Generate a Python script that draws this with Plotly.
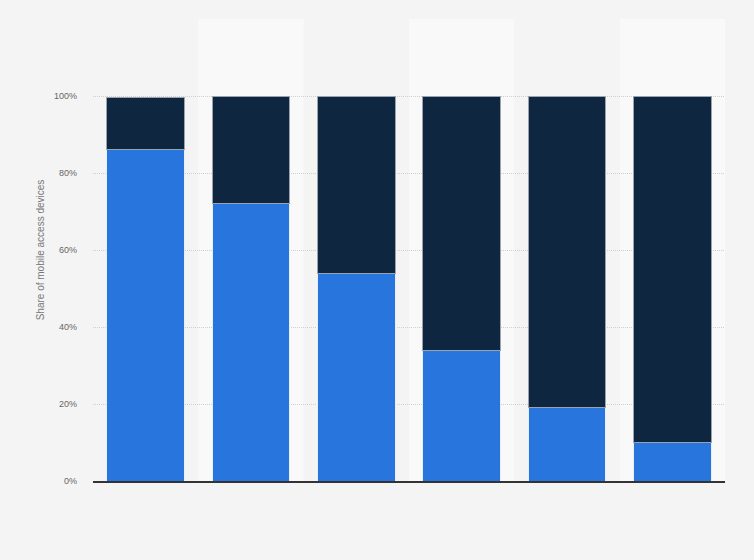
import plotly.graph_objects as go

# six groups, no labels shown on the x axis in the original
categories = ["Group 1", "Group 2", "Group 3", "Group 4", "Group 5", "Group 6"]
share_blue = [86, 72, 54, 34, 19, 10]
share_dark = [13.6, 28, 46, 66, 81, 90]

tick_vals = [0, 20, 40, 60, 80, 100, 120]
tick_text = ["0%", "20%", "40%", "60%", "80%", "100%", ""]

fig = go.Figure()
fig.add_trace(go.Bar(x=categories, y=share_blue, name="Series 1",
                     marker=dict(color="#2876dd", line=dict(color="#e8eef6", width=1)),
                     width=0.74))
fig.add_trace(go.Bar(x=categories, y=share_dark, name="Series 2",
                     marker=dict(color="#0f2640", line=dict(color="#9aa4ae", width=1)),
                     width=0.74))

# lighter background bands behind every second column
for i in range(1, len(categories), 2):
    fig.add_shape(type="rect", xref="x", yref="paper", x0=i - 0.5, x1=i + 0.5,
                  y0=0, y1=1, fillcolor="#f9f9f9", line_width=0, layer="below")

fig.update_layout(
    barmode="stack",
    bargap=0.26,
    width=754, height=560,
    margin=dict(l=93, r=29, t=19, b=79),
    paper_bgcolor="#f4f4f4",
    plot_bgcolor="#f4f4f4",
    showlegend=False,
    font=dict(family="Liberation Sans, Arial, sans-serif", size=10, color="#666666"),
)
fig.update_xaxes(showticklabels=False, showgrid=False, showline=True,
                 linecolor="#333333", linewidth=1.5, ticks="")
fig.update_yaxes(range=[0, 120], tickvals=tick_vals, ticktext=tick_text,
                 showgrid=True, gridcolor="#cfcfcf", griddash="1px,1px", gridwidth=1,
                 zeroline=False, ticks="", ticklabelstandoff=15,
                 tickfont=dict(size=9, color="#666666"),
                 title=dict(text="Share of mobile access devices",
                            font=dict(size=10, color="#777777"), standoff=7))

fig.write_html("out.html", config={"displayModeBar": False},
               post_script="document.body.style.margin='0';")
